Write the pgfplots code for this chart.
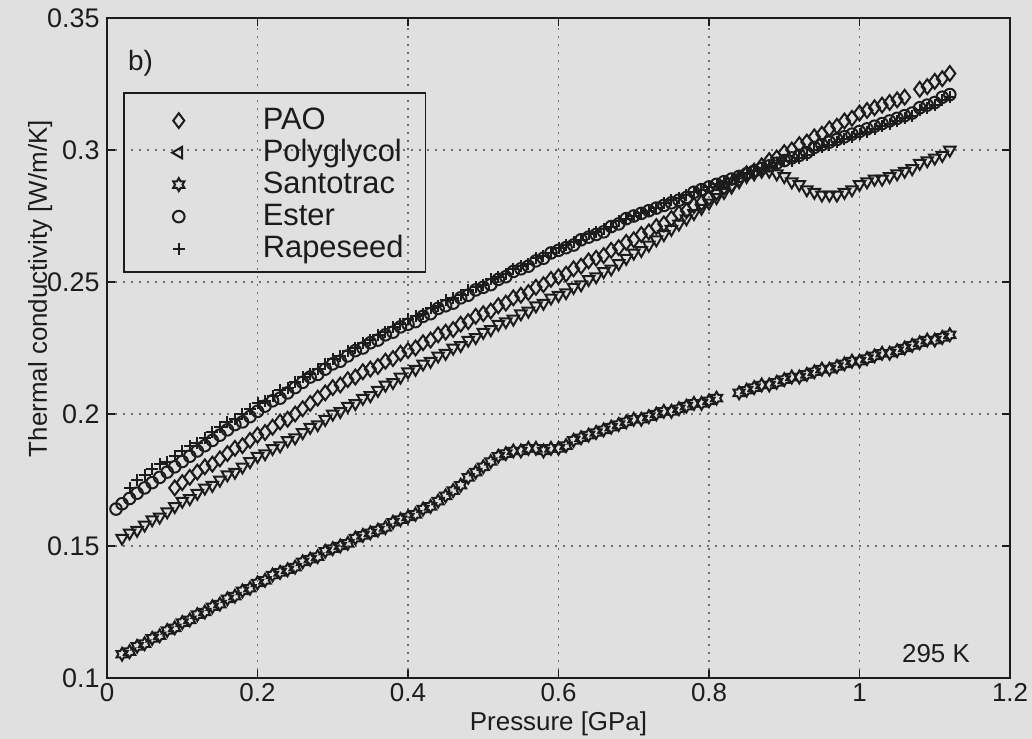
\documentclass[border=0pt]{standalone}
\usepackage{pgfplots}
\pgfplotsset{compat=1.18}
\usepackage{fontspec}
\setmainfont{Liberation Sans}
\setsansfont{Liberation Sans}

\definecolor{paper}{RGB}{224,224,224}
\definecolor{ink}{RGB}{28,28,28}
\definecolor{gridgray}{RGB}{110,110,110}

% six-pointed star outline (hexagram)
\pgfdeclareplotmark{hexagram}{%
  \pgfpathmoveto{\pgfpointpolar{90}{\pgfplotmarksize}}%
  \pgfpathlineto{\pgfpointpolar{120}{0.58\pgfplotmarksize}}%
  \pgfpathlineto{\pgfpointpolar{150}{\pgfplotmarksize}}%
  \pgfpathlineto{\pgfpointpolar{180}{0.58\pgfplotmarksize}}%
  \pgfpathlineto{\pgfpointpolar{210}{\pgfplotmarksize}}%
  \pgfpathlineto{\pgfpointpolar{240}{0.58\pgfplotmarksize}}%
  \pgfpathlineto{\pgfpointpolar{270}{\pgfplotmarksize}}%
  \pgfpathlineto{\pgfpointpolar{300}{0.58\pgfplotmarksize}}%
  \pgfpathlineto{\pgfpointpolar{330}{\pgfplotmarksize}}%
  \pgfpathlineto{\pgfpointpolar{0}{0.58\pgfplotmarksize}}%
  \pgfpathlineto{\pgfpointpolar{30}{\pgfplotmarksize}}%
  \pgfpathlineto{\pgfpointpolar{60}{0.58\pgfplotmarksize}}%
  \pgfpathclose
  \pgfusepathqstroke}

\begin{document}
\begin{tikzpicture}
\fill[paper] (-53.5bp,-30.5bp) rectangle (462.5bp,339bp);
\begin{axis}[
  scale only axis, width=451.5bp, height=330bp,
  xmin=0, xmax=1.2, ymin=0.1, ymax=0.35,
  xtick={0,0.2,0.4,0.6,0.8,1,1.2},
  ytick={0.1,0.15,0.2,0.25,0.3,0.35},
  /pgf/number format/assume math mode=true,
  tick label style={font=\fontsize{13}{15}\selectfont, text=ink},
  xticklabel style={anchor=north, inner sep=0pt, yshift=-2.5bp},
  yticklabel style={anchor=east, inner sep=0pt, xshift=-3.5bp,
    font=\fontsize{13.5}{15}\selectfont},
  xlabel={Pressure [GPa]},
  ylabel={Thermal conductivity [W/m/K]},
  xlabel style={at={(axis description cs:0.5,0)}, anchor=base, yshift=-26bp,
    font=\fontsize{13}{15}\selectfont, text=ink},
  ylabel style={at={(axis description cs:-0.074,0.59)}, anchor=center,
    font=\fontsize{13}{15}\selectfont, text=ink},
  axis line style={line width=1.1bp, ink},
  tick style={ink, line width=0.8bp},
  major tick length=4bp,
  tick align=inside,
  grid=major,
  major grid style={gridgray, line width=0.6bp, dash pattern=on 0.8bp off 3.2bp},
  legend style={at={(axis description cs:0.0177,0.888)}, anchor=north west,
    draw=ink, line width=0.8bp, fill=none,
    font=\fontsize{15.5}{17}\selectfont, text=ink,
    inner xsep=11bp, inner ysep=5.5bp, row sep=1.5bp, column sep=22bp,
    nodes={inner sep=0pt, text height=13bp, text depth=1.5bp}},
  legend cell align=left,
  legend image code/.code={%
    \path[draw=none] (-16.5bp,0bp) rectangle (20bp,2bp);
    \draw[#1, overlay] plot coordinates {(0bp,-1.2bp)};},
  every axis plot/.append style={only marks, ink, line width=1bp},
  clip=false,
]
% PAO
\addplot[mark=diamond, mark size=3.7bp] coordinates {
(0.09,0.172)(0.10,0.174)(0.11,0.176)(0.12,0.178)(0.13,0.180)(0.14,0.181)(0.15,0.183)(0.16,0.185)(0.17,0.187)(0.18,0.188)
(0.19,0.190)(0.20,0.192)(0.21,0.193)(0.22,0.195)(0.23,0.197)(0.24,0.198)(0.25,0.200)(0.26,0.202)(0.27,0.204)(0.28,0.206)
(0.29,0.208)(0.30,0.210)(0.31,0.211)(0.32,0.213)(0.33,0.214)(0.34,0.216)(0.35,0.217)(0.36,0.218)(0.37,0.220)(0.38,0.221)
(0.39,0.223)(0.40,0.224)(0.41,0.225)(0.42,0.227)(0.43,0.228)(0.44,0.230)(0.45,0.231)(0.46,0.232)(0.47,0.234)(0.48,0.235)
(0.49,0.237)(0.50,0.238)(0.51,0.239)(0.52,0.241)(0.53,0.242)(0.54,0.244)(0.55,0.245)(0.56,0.246)(0.57,0.248)(0.58,0.249)
(0.59,0.251)(0.60,0.252)(0.61,0.253)(0.62,0.255)(0.63,0.256)(0.64,0.258)(0.65,0.259)(0.66,0.260)(0.67,0.262)(0.68,0.263)
(0.69,0.265)(0.70,0.266)(0.71,0.268)(0.72,0.269)(0.73,0.271)(0.74,0.272)(0.75,0.274)(0.76,0.276)(0.77,0.277)(0.78,0.279)
(0.79,0.280)(0.80,0.282)(0.81,0.284)(0.82,0.286)(0.83,0.287)(0.84,0.289)(0.85,0.291)(0.86,0.292)(0.87,0.294)(0.88,0.296)
(0.89,0.297)(0.90,0.299)(0.91,0.300)(0.92,0.302)(0.93,0.303)(0.94,0.305)(0.95,0.306)(0.96,0.308)(0.97,0.309)(0.98,0.311)
(0.99,0.312)(1.00,0.314)(1.01,0.315)(1.02,0.316)(1.03,0.317)(1.04,0.318)(1.05,0.319)(1.06,0.320)
(1.08,0.323)(1.09,0.324)(1.10,0.326)(1.11,0.327)(1.12,0.329)
};
\addlegendentry{PAO}
% Polyglycol
\addplot[mark=triangle, mark size=3.3bp, mark options={rotate=180},
  legend image code/.code={%
    \path[draw=none] (-16.5bp,0bp) rectangle (20bp,2bp);
    \draw[ink, line width=1bp, mark=triangle, mark size=3.3bp, mark options={rotate=90}, overlay]
      plot coordinates {(0bp,-1.2bp)};}] coordinates {
(0.02,0.153)(0.03,0.155)(0.04,0.156)(0.05,0.158)(0.06,0.160)(0.07,0.161)(0.08,0.163)(0.09,0.165)(0.10,0.167)(0.11,0.168)
(0.12,0.170)(0.13,0.172)(0.14,0.173)(0.15,0.175)(0.16,0.177)(0.17,0.178)(0.18,0.180)(0.19,0.182)(0.20,0.184)(0.21,0.185)
(0.22,0.187)(0.23,0.188)(0.24,0.190)(0.25,0.191)(0.26,0.193)(0.27,0.195)(0.28,0.196)(0.29,0.198)(0.30,0.200)(0.31,0.201)
(0.32,0.203)(0.33,0.204)(0.34,0.206)(0.35,0.207)(0.36,0.209)(0.37,0.211)(0.38,0.212)(0.39,0.214)(0.40,0.216)(0.41,0.217)
(0.42,0.219)(0.43,0.220)(0.44,0.222)(0.45,0.223)(0.46,0.225)(0.47,0.226)(0.48,0.228)(0.49,0.229)(0.50,0.231)(0.51,0.232)
(0.52,0.234)(0.53,0.235)(0.54,0.236)(0.55,0.238)(0.56,0.239)(0.57,0.241)(0.58,0.242)(0.59,0.244)(0.60,0.245)(0.61,0.246)
(0.62,0.248)(0.63,0.249)(0.64,0.251)(0.65,0.252)(0.66,0.254)(0.67,0.255)(0.68,0.257)(0.69,0.259)(0.70,0.261)(0.71,0.262)
(0.72,0.264)(0.73,0.266)(0.74,0.268)(0.75,0.270)(0.76,0.272)(0.77,0.274)(0.78,0.276)(0.79,0.278)(0.80,0.280)(0.81,0.282)
(0.82,0.284)(0.83,0.286)(0.84,0.288)(0.85,0.290)(0.86,0.291)(0.87,0.292)(0.88,0.292)(0.89,0.291)(0.90,0.290)(0.91,0.288)
(0.92,0.287)(0.93,0.285)(0.94,0.284)(0.95,0.283)(0.96,0.283)(0.97,0.283)(0.98,0.284)(0.99,0.285)(1.00,0.287)(1.01,0.288)
(1.02,0.289)(1.03,0.289)(1.04,0.290)(1.05,0.291)(1.06,0.292)(1.07,0.293)(1.08,0.295)(1.09,0.296)(1.10,0.297)(1.11,0.298)
(1.12,0.300)
};
\addlegendentry{Polyglycol}
% Santotrac
\addplot[mark=hexagram, mark size=3.2bp] coordinates {
(0.02,0.109)(0.03,0.110)(0.04,0.112)(0.05,0.113)(0.06,0.115)(0.07,0.116)(0.08,0.118)(0.09,0.119)(0.10,0.121)
(0.11,0.122)(0.12,0.124)(0.13,0.125)(0.14,0.127)(0.15,0.128)(0.16,0.130)(0.17,0.131)(0.18,0.133)(0.19,0.134)(0.20,0.136)
(0.21,0.137)(0.22,0.139)(0.23,0.140)(0.24,0.141)(0.25,0.142)(0.26,0.144)(0.27,0.145)(0.28,0.146)(0.29,0.148)(0.30,0.149)
(0.31,0.150)(0.32,0.151)(0.33,0.153)(0.34,0.154)(0.35,0.155)(0.36,0.156)(0.37,0.157)(0.38,0.159)(0.39,0.160)(0.40,0.161)
(0.41,0.162)(0.42,0.164)(0.43,0.165)(0.44,0.167)(0.45,0.169)(0.46,0.171)(0.47,0.173)(0.48,0.176)(0.49,0.178)(0.50,0.180)
(0.51,0.182)(0.52,0.184)(0.53,0.185)(0.54,0.186)(0.55,0.186)(0.56,0.187)(0.57,0.187)(0.58,0.186)(0.59,0.187)(0.60,0.187)
(0.61,0.188)(0.62,0.190)(0.63,0.191)(0.64,0.192)(0.65,0.193)(0.66,0.194)(0.67,0.195)(0.68,0.196)(0.69,0.197)(0.70,0.198)
(0.71,0.198)(0.72,0.199)(0.73,0.200)(0.74,0.201)(0.75,0.201)(0.76,0.202)(0.77,0.203)(0.78,0.204)(0.79,0.204)(0.80,0.205)
(0.81,0.206)
(0.84,0.208)(0.85,0.209)(0.86,0.210)(0.87,0.211)(0.88,0.211)(0.89,0.212)(0.90,0.213)
(0.91,0.214)(0.92,0.214)(0.93,0.215)(0.94,0.216)(0.95,0.217)(0.96,0.217)(0.97,0.218)(0.98,0.219)(0.99,0.220)(1.00,0.220)
(1.01,0.221)(1.02,0.222)(1.03,0.223)(1.04,0.223)(1.05,0.224)(1.06,0.225)(1.07,0.226)(1.08,0.227)(1.09,0.228)(1.10,0.228)
(1.11,0.229)(1.12,0.230)
};
\addlegendentry{Santotrac}
% Ester
\addplot[mark=o, mark size=2.9bp] coordinates {
(0.012,0.164)(0.02,0.166)(0.03,0.168)(0.04,0.170)(0.05,0.172)(0.06,0.174)(0.07,0.176)(0.08,0.178)(0.09,0.180)(0.10,0.182)
(0.11,0.184)(0.12,0.186)(0.13,0.188)(0.14,0.190)(0.15,0.192)(0.16,0.194)(0.17,0.196)(0.18,0.197)(0.19,0.199)(0.20,0.201)
(0.21,0.203)(0.22,0.205)(0.23,0.206)(0.24,0.208)(0.25,0.210)(0.26,0.212)(0.27,0.214)(0.28,0.215)(0.29,0.217)(0.30,0.219)
(0.31,0.220)(0.32,0.222)(0.33,0.224)(0.34,0.225)(0.35,0.227)(0.36,0.228)(0.37,0.230)(0.38,0.231)(0.39,0.233)(0.40,0.234)
(0.41,0.235)(0.42,0.237)(0.43,0.238)(0.44,0.240)(0.45,0.241)(0.46,0.242)(0.47,0.244)(0.48,0.245)(0.49,0.247)(0.50,0.248)
(0.51,0.249)(0.52,0.251)(0.53,0.252)(0.54,0.254)(0.55,0.255)(0.56,0.256)(0.57,0.258)(0.58,0.259)(0.59,0.261)(0.60,0.262)
(0.61,0.263)(0.62,0.264)(0.63,0.266)(0.64,0.267)(0.65,0.268)(0.66,0.269)(0.67,0.271)(0.68,0.272)(0.69,0.274)(0.70,0.275)
(0.71,0.276)(0.72,0.277)(0.73,0.278)(0.74,0.279)(0.75,0.280)(0.76,0.281)(0.77,0.282)(0.78,0.284)(0.79,0.285)(0.80,0.286)
(0.81,0.287)(0.82,0.288)(0.83,0.289)(0.84,0.290)(0.85,0.291)(0.86,0.292)(0.87,0.293)(0.88,0.294)(0.89,0.295)(0.90,0.296)
(0.91,0.297)(0.92,0.298)(0.93,0.299)(0.94,0.301)(0.95,0.302)(0.96,0.303)(0.97,0.304)(0.98,0.305)(0.99,0.306)(1.00,0.307)
(1.01,0.308)(1.02,0.309)(1.03,0.310)(1.04,0.311)(1.05,0.312)(1.06,0.313)(1.07,0.314)(1.08,0.316)(1.09,0.317)(1.10,0.318)
(1.11,0.320)(1.12,0.321)
};
\addlegendentry{Ester}
% Rapeseed
\addplot[mark=+, mark size=3bp] coordinates {
(0.03,0.172)(0.04,0.175)(0.05,0.177)(0.06,0.179)(0.07,0.181)(0.08,0.182)(0.09,0.184)(0.10,0.186)
(0.11,0.188)(0.12,0.189)(0.13,0.191)(0.14,0.193)(0.15,0.195)(0.16,0.197)(0.17,0.198)(0.18,0.200)(0.19,0.202)(0.20,0.204)
(0.21,0.205)(0.22,0.207)(0.23,0.209)(0.24,0.210)(0.25,0.212)(0.26,0.214)(0.27,0.215)(0.28,0.217)(0.29,0.219)(0.30,0.221)
(0.31,0.222)(0.32,0.224)(0.33,0.225)(0.34,0.227)(0.35,0.228)(0.36,0.230)(0.37,0.231)(0.38,0.233)(0.39,0.234)(0.40,0.236)
(0.41,0.237)(0.42,0.238)(0.43,0.240)(0.44,0.241)(0.45,0.243)(0.46,0.244)(0.47,0.245)(0.48,0.247)(0.49,0.248)(0.50,0.249)
(0.51,0.251)(0.52,0.252)(0.53,0.253)(0.54,0.255)(0.55,0.256)(0.56,0.257)(0.57,0.259)(0.58,0.260)(0.59,0.261)(0.60,0.263)
(0.61,0.264)(0.62,0.265)(0.63,0.266)(0.64,0.268)(0.65,0.269)(0.66,0.270)(0.67,0.271)(0.68,0.273)(0.69,0.274)(0.70,0.275)
(0.71,0.276)(0.72,0.277)(0.73,0.278)(0.74,0.280)(0.75,0.281)(0.76,0.282)(0.77,0.283)(0.78,0.284)(0.79,0.285)(0.80,0.286)
(0.81,0.287)(0.82,0.288)(0.83,0.289)(0.84,0.290)(0.85,0.291)(0.86,0.292)(0.87,0.293)(0.88,0.294)(0.89,0.295)(0.90,0.296)
(0.91,0.296)(0.92,0.297)(0.93,0.298)(0.94,0.300)(0.95,0.301)(0.96,0.302)(0.97,0.303)(0.98,0.304)(0.99,0.305)(1.00,0.306)
(1.01,0.307)(1.02,0.308)(1.03,0.309)(1.04,0.310)(1.05,0.311)(1.06,0.312)(1.07,0.313)(1.08,0.315)(1.09,0.316)(1.10,0.317)
(1.11,0.319)(1.12,0.320)
};
\addlegendentry{Rapeseed}
\node[anchor=base west, inner sep=0pt, font=\fontsize{14}{16}\selectfont, text=ink]
  at (axis description cs:0.023,0.921) {b)};
\node[anchor=base east, inner sep=0pt, font=\fontsize{13}{15}\selectfont, text=ink]
  at (axis description cs:0.956,0.024) {295 K};
\end{axis}
\pgfresetboundingbox
\useasboundingbox (-53.5bp,-30.5bp) rectangle (462.5bp,339bp);
\end{tikzpicture}
\end{document}
